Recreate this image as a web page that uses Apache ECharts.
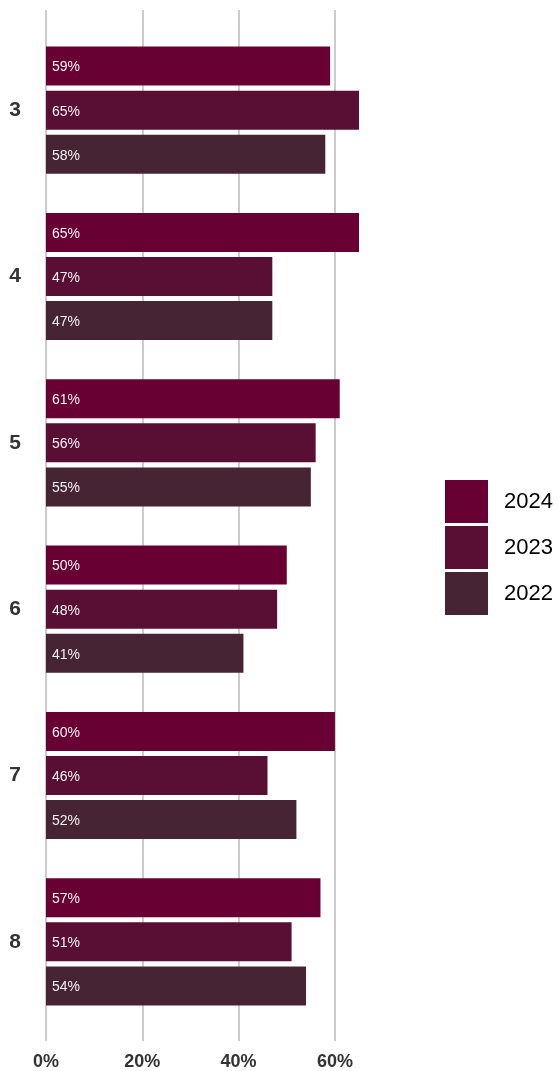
<!DOCTYPE html>
<html>
<head>
<meta charset="utf-8">
<script src="https://cdn.jsdelivr.net/npm/echarts@6/dist/echarts.min.js"></script>
<style>
html,body{margin:0;padding:0;background:#fff;}
#main{width:558px;height:1071px;}
</style>
</head>
<body>
<div id="main"></div>
<script>
var categories = ['3', '4', '5', '6', '7', '8'];
var years = ['2024', '2023', '2022'];
var values2024 = [59, 65, 61, 50, 60, 57];
var values2023 = [65, 47, 56, 48, 46, 51];
var values2022 = [58, 47, 55, 41, 52, 54];
var xTicks = [0, 20, 40, 60];
var colors = ['#690033', '#590f33', '#472433'];

var seriesValues = [values2024, values2023, values2022];

var chart = echarts.init(document.getElementById('main'));
var font = 'Liberation Sans, Arial, sans-serif';

var series = years.map(function (y, i) {
  return {
    name: y,
    type: 'bar',
    xAxisIndex: 0,
    yAxisIndex: 0,
    data: seriesValues[i],
    barWidth: 39,
    barGap: '13%',
    itemStyle: { color: colors[i] },
    label: {
      show: true,
      position: 'insideLeft',
      distance: 6,
      offset: [0, 1.5],
      formatter: '{c}%',
      color: '#f2f2f2',
      fontSize: 14,
      fontFamily: font
    },
    emphasis: { disabled: true },
    animation: false
  };
});

chart.setOption({
  animation: false,
  color: colors,
  legend: {
    orient: 'vertical',
    left: 440,
    top: 475,
    itemWidth: 43,
    itemHeight: 43,
    itemGap: 3,
    icon: 'rect',
    data: years,
    textStyle: {
      fontSize: 22,
      color: '#000',
      fontFamily: font,
      padding: [0, 0, 0, 11]
    },
    selectedMode: false
  },
  grid: [
    { left: 46, top: 27, width: 313, height: 998, containLabel: false },
    { left: 46, top: 10, width: 313, height: 1032, containLabel: false }
  ],
  xAxis: [
    {
      gridIndex: 0,
      type: 'value',
      min: 0,
      max: 65,
      show: false,
      splitLine: { show: false }
    },
    {
      gridIndex: 1,
      type: 'value',
      min: xTicks[0],
      max: 65,
      interval: 20,
      axisLine: { show: false },
      axisTick: { show: false },
      splitLine: { show: true, showMaxLine: false, lineStyle: { color: '#cccccc', width: 2 } },
      axisLabel: {
        showMaxLabel: false,
        formatter: function (v) { return xTicks.indexOf(v) >= 0 ? v + '%' : ''; },
        fontSize: 18,
        fontWeight: 'bold',
        color: '#333',
        fontFamily: font,
        margin: 12
      }
    }
  ],
  yAxis: [
    {
      gridIndex: 0,
      type: 'category',
      data: categories,
      inverse: true,
      axisLine: { show: false },
      axisTick: { show: false },
      splitLine: { show: false },
      axisLabel: {
        fontSize: 21,
        fontWeight: 'bold',
        color: '#333',
        fontFamily: font,
        margin: 25
      }
    },
    {
      gridIndex: 1,
      type: 'category',
      data: categories,
      show: false
    }
  ],
  series: series
});
</script>
</body>
</html>
